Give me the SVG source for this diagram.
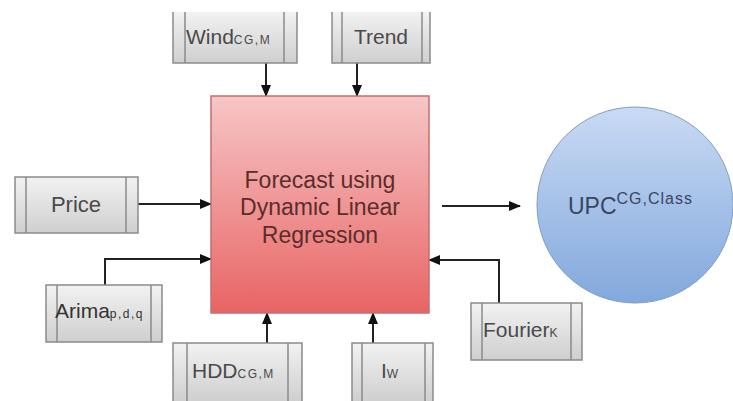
<svg xmlns="http://www.w3.org/2000/svg" width="733" height="401" viewBox="0 0 733 401">
<defs>
<linearGradient id="gGray" x1="0" y1="0" x2="0" y2="1"><stop offset="0" stop-color="#f2f2f2"/><stop offset="1" stop-color="#cfcfcf"/></linearGradient>
<linearGradient id="gRed" x1="0" y1="0" x2="0" y2="1"><stop offset="0" stop-color="#f7c6c6"/><stop offset="1" stop-color="#e86464"/></linearGradient>
<linearGradient id="gBlue" x1="0" y1="0" x2="0" y2="1"><stop offset="0" stop-color="#c9daf3"/><stop offset="1" stop-color="#82a8dd"/></linearGradient>
<marker id="arr" viewBox="0 0 12 12" refX="11" refY="6" markerUnits="userSpaceOnUse" markerWidth="12" markerHeight="12" orient="auto-start-reverse"><path d="M0,1 L12,6 L0,11 z" fill="#111"/></marker>
</defs>
<style>
.box{fill:url(#gGray);stroke:#8a8a8a;stroke-width:1.5}
.bar{stroke:#8a8a8a;stroke-width:1.5;fill:none}
.lbl{font-family:"Liberation Sans",Arial,sans-serif;font-size:21px;fill:#4a4a4a}
.sub{font-size:12px;letter-spacing:1.5px}
.red{font-family:"Liberation Sans",Arial,sans-serif;font-size:23px;fill:#5a2d2d}
.conn{stroke:#222;stroke-width:2;fill:none;marker-end:url(#arr)}
</style>
<rect width="733" height="401" fill="#fff"/>
<g id="connectors">
<path class="conn" d="M266,63 V96"/>
<path class="conn" d="M357,63 V96"/>
<path class="conn" d="M138,204 H211"/>
<path class="conn" d="M105,285 V259 H211"/>
<path class="conn" d="M267,343 V313"/>
<path class="conn" d="M373,343 V313"/>
<path class="conn" d="M499,303 V260 H429"/>
<path class="conn" d="M442,206 H520"/>
</g>
<g id="forecast">
<rect x="211" y="96" width="218" height="217" fill="url(#gRed)" stroke="#c07070" stroke-width="1.5"/>
<text class="red" x="320" y="188" text-anchor="middle">Forecast using</text>
<text class="red" x="320" y="215" text-anchor="middle">Dynamic Linear</text>
<text class="red" x="320" y="243" text-anchor="middle">Regression</text>
</g>
<g id="upc">
<circle cx="635" cy="205" r="98" fill="url(#gBlue)" stroke="#7f9cc8" stroke-width="1"/>
<text class="lbl" x="568" y="214" style="font-size:23px;fill:#3a4560">UPC<tspan style="font-size:16px;letter-spacing:1px" dy="-10">CG,Class</tspan></text>
</g>
<g id="wind">
<path class="box" d="M173,12 V63 H297 V12"/>
<path class="bar" d="M185,12 V63 M284,12 V63"/>
<text class="lbl" x="186" y="44">Wind<tspan class="sub">CG,M</tspan></text>
</g>
<g id="trend">
<path class="box" d="M332,12 V63 H430 V12"/>
<path class="bar" d="M342,12 V63 M422,12 V63"/>
<text class="lbl" x="381" y="44" text-anchor="middle">Trend</text>
</g>
<g id="price">
<rect class="box" x="15" y="177" width="123" height="56"/>
<path class="bar" d="M26,177 V233 M126,177 V233"/>
<text class="lbl" x="76" y="212" text-anchor="middle" style="font-size:22px">Price</text>
</g>
<g id="arima">
<rect class="box" x="46" y="285" width="116" height="57"/>
<path class="bar" d="M57,285 V342 M151,285 V342"/>
<text class="lbl" x="55" y="318" style="fill:#333">Arima<tspan class="sub">p,d,q</tspan></text>
</g>
<g id="hdd">
<path class="box" d="M173,401 V343 H302 V401"/>
<path class="bar" d="M187,343 V401 M288,343 V401"/>
<text class="lbl" x="192" y="378">HDD<tspan class="sub">CG,M</tspan></text>
</g>
<g id="iw">
<path class="box" d="M352,401 V343 H433 V401"/>
<path class="bar" d="M362,343 V401 M425,343 V401"/>
<text class="lbl" x="381" y="378">I<tspan class="sub">W</tspan></text>
</g>
<g id="fourier">
<rect class="box" x="471" y="303" width="111" height="57"/>
<path class="bar" d="M482,303 V360 M571,303 V360"/>
<text class="lbl" x="483" y="337">Fourier<tspan class="sub">K</tspan></text>
</g>
</svg>
